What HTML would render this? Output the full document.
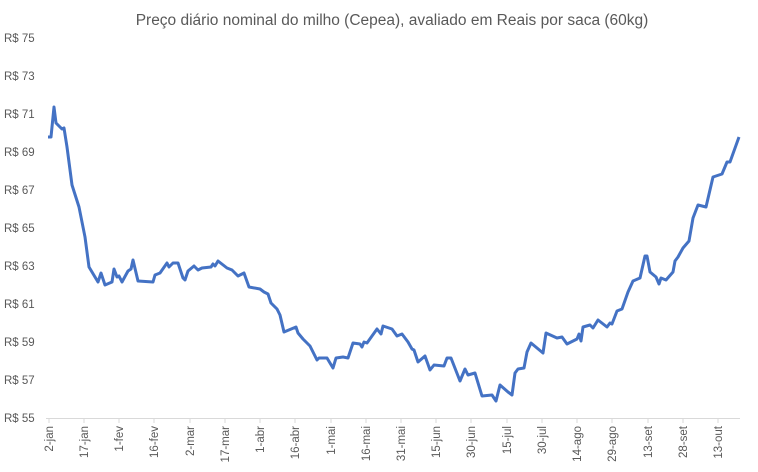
<!DOCTYPE html>
<html><head><meta charset="utf-8"><style>
body{margin:0;background:#fff}
svg{display:block;font-family:"Liberation Sans",sans-serif}
</style></head><body>
<svg width="758" height="472" viewBox="0 0 758 472">
<text x="392" y="25" font-size="15.5" fill="#595959" text-anchor="middle">Preço diário nominal do milho (Cepea), avaliado em Reais por saca (60kg)</text>
<g font-size="11.5" fill="#595959">
<text x="4" y="422">R$ 55</text><text x="4" y="384">R$ 57</text><text x="4" y="346">R$ 59</text><text x="4" y="308">R$ 61</text><text x="4" y="270">R$ 63</text><text x="4" y="232">R$ 65</text><text x="4" y="194">R$ 67</text><text x="4" y="156">R$ 69</text><text x="4" y="118">R$ 71</text><text x="4" y="80">R$ 73</text><text x="4" y="42">R$ 75</text>
</g>
<line x1="46" y1="418.5" x2="740" y2="418.5" stroke="#d9d9d9" stroke-width="1"/>
<g stroke="#d9d9d9">
<line x1="49" y1="418" x2="49" y2="423"/><line x1="84" y1="418" x2="84" y2="423"/><line x1="119" y1="418" x2="119" y2="423"/><line x1="154" y1="418" x2="154" y2="423"/><line x1="190" y1="418" x2="190" y2="423"/><line x1="225" y1="418" x2="225" y2="423"/><line x1="260" y1="418" x2="260" y2="423"/><line x1="295" y1="418" x2="295" y2="423"/><line x1="331" y1="418" x2="331" y2="423"/><line x1="366" y1="418" x2="366" y2="423"/><line x1="401" y1="418" x2="401" y2="423"/><line x1="436" y1="418" x2="436" y2="423"/><line x1="471" y1="418" x2="471" y2="423"/><line x1="507" y1="418" x2="507" y2="423"/><line x1="542" y1="418" x2="542" y2="423"/><line x1="577" y1="418" x2="577" y2="423"/><line x1="612" y1="418" x2="612" y2="423"/><line x1="648" y1="418" x2="648" y2="423"/><line x1="683" y1="418" x2="683" y2="423"/><line x1="718" y1="418" x2="718" y2="423"/>
</g>
<g font-size="11.5" fill="#595959" text-anchor="end">
<text transform="translate(53,426) rotate(-90)">2-jan</text>
<text transform="translate(88,426) rotate(-90)">17-jan</text>
<text transform="translate(123,426) rotate(-90)">1-fev</text>
<text transform="translate(158,426) rotate(-90)">16-fev</text>
<text transform="translate(194,426) rotate(-90)">2-mar</text>
<text transform="translate(229,426) rotate(-90)">17-mar</text>
<text transform="translate(264,426) rotate(-90)">1-abr</text>
<text transform="translate(299,426) rotate(-90)">16-abr</text>
<text transform="translate(335,426) rotate(-90)">1-mai</text>
<text transform="translate(370,426) rotate(-90)">16-mai</text>
<text transform="translate(405,426) rotate(-90)">31-mai</text>
<text transform="translate(440,426) rotate(-90)">15-jun</text>
<text transform="translate(475,426) rotate(-90)">30-jun</text>
<text transform="translate(511,426) rotate(-90)">15-jul</text>
<text transform="translate(546,426) rotate(-90)">30-jul</text>
<text transform="translate(581,426) rotate(-90)">14-ago</text>
<text transform="translate(616,426) rotate(-90)">29-ago</text>
<text transform="translate(652,426) rotate(-90)">13-set</text>
<text transform="translate(687,426) rotate(-90)">28-set</text>
<text transform="translate(722,426) rotate(-90)">13-out</text>
</g>
<polyline fill="none" stroke="#4472c4" stroke-width="3" stroke-linejoin="round" points="
48,137 51,137 54,107 56,123 62,129 64,128 67,147 72,185 79,207 85,237 89,267 98,282 101,273 105,285 112,282 114,269 117,277 119,276 122,282 128,271 131,269 133,260 138,281 153,282 155,275 160,273 167,263 169,267 173,263 178,263 183,278 185,280 188,271 194,266 198,270 202,268 211,267 213,264 215,266 218,261 227,268 232,270 238,276 244,273 249,287 260,289 264,292 268,294 271,303 277,309 280,315 284,332 296,327 298,333 303,339 310,346 317,360 319,358 327,358 333,368 336,358 343,357 348,358 353,343 360,344 362,347 364,342 367,343 377,329 381,334 383,326 392,329 397,336 402,334 408,342 412,349 414,350 418,362 425,356 430,370 434,365 444,366 447,358 451,358 460,381 465,369 468,375 475,373 482,396 492,395 496,401 500,385 508,392 512,395 515,373 518,369 524,368 527,352 531,343 543,353 546,333 557,338 562,337 567,344 577,339 579,334 581,341 583,327 590,325 593,328 598,320 607,327 610,323 612,324 617,311 622,309 628,292 633,281 640,278 645,256 647,256 650,272 656,277 659,284 661,278 666,280 673,272 675,261 678,257 683,248 689,241 693,218 698,205 706,207 713,177 722,174 727,162 730,162 739,137"/>
</svg>
</body></html>
